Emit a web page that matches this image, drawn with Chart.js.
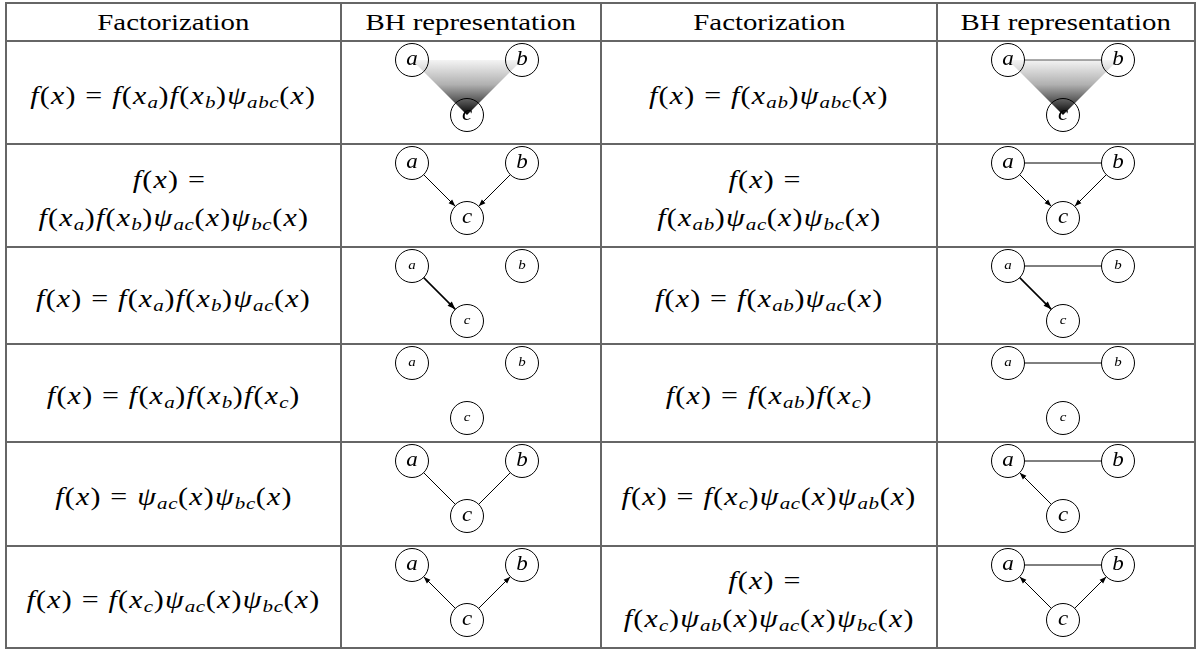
<!DOCTYPE html>
<html>
<head>
<meta charset="utf-8">
<script src="https://cdn.jsdelivr.net/npm/chart.js@4.4.0/dist/chart.umd.min.js"></script>
<style>
  body { margin: 0; background: #fff; width: 1196px; height: 649px; overflow: hidden;
         font-family: "Liberation Serif", "Times New Roman", serif; position: relative; }
  .cell { position: absolute; display: flex; align-items: center; justify-content: center; }
  .txt { display: inline-block; transform: scaleX(1.2); font-size: 24px; line-height: 38px;
         text-align: center; white-space: nowrap; color: #000; }
  .math { font-size: 25px; letter-spacing: 1px; padding-top: 6px; }
  .txt sub { font-size: 70%; vertical-align: -0.22em; line-height: 0; letter-spacing: 0.5px; }
  .rule { position: absolute; background: #666; z-index: 2; }
  canvas { position: absolute; }
</style>
</head>
<body>
<script>
// Tabela: fatorizações e representações BH
const headers = ['Factorization', 'BH representation', 'Factorization', 'BH representation'];

const formulasLeft = [
    'f(x) = f(x_a)f(x_b)ψ_abc(x)',
    'f(x) =\nf(x_a)f(x_b)ψ_ac(x)ψ_bc(x)',
    'f(x) = f(x_a)f(x_b)ψ_ac(x)',
    'f(x) = f(x_a)f(x_b)f(x_c)',
    'f(x) = ψ_ac(x)ψ_bc(x)',
    'f(x) = f(x_c)ψ_ac(x)ψ_bc(x)'
];
const formulasRight = [
    'f(x) = f(x_ab)ψ_abc(x)',
    'f(x) =\nf(x_ab)ψ_ac(x)ψ_bc(x)',
    'f(x) = f(x_ab)ψ_ac(x)',
    'f(x) = f(x_ab)f(x_c)',
    'f(x) = f(x_c)ψ_ac(x)ψ_ab(x)',
    'f(x) =\nf(x_c)ψ_ab(x)ψ_ac(x)ψ_bc(x)'
];

// nós do grafo (a, b, c) dentro de cada célula
const nodeNames = ['a', 'b', 'c'];
const nodeX = [71, 181, 126];
const nodeY = [19, 19, 74];

// 'a-b' = aresta, 'a>c' = seta, 'abc' = triângulo (fator conjunto)
const graphsLeft = [['abc'], ['a>c', 'b>c'], ['a>c'], [], ['a-c', 'b-c'], ['c>a', 'c>b']];
const graphsRight = [['abc', 'a-b'], ['a-b', 'a>c', 'b>c'], ['a-b', 'a>c'], ['a-b'], ['a-b', 'c>a'], ['a-b', 'c>a', 'c>b']];
const smallRows = [2, 3];

// Layout
const colEdges = [6, 341, 601, 937, 1195];
const rowEdges = [3, 41, 144, 247, 344, 442, 546, 648];
const nodeR = 16.5;

function mathHtml(s) {
    return s.split('\n').map(line => line
        .replace(/([a-zψ])/g, '<i>$1</i>')
        .replace(/_((?:<i>[a-z]<\/i>)+)/g, '<sub>$1</sub>')
        .replace(/ = ?/g, '&nbsp;=&nbsp;')
    ).join('<br>');
}

function addCell(c, r, html, cls) {
    const d = document.createElement('div');
    d.className = 'cell';
    d.style.left = colEdges[c] + 'px';
    d.style.top = rowEdges[r] + 'px';
    d.style.width = (colEdges[c + 1] - colEdges[c]) + 'px';
    d.style.height = (rowEdges[r + 1] - rowEdges[r]) + 'px';
    d.innerHTML = '<span class="txt ' + (cls || '') + '">' + html + '</span>';
    document.body.appendChild(d);
}

headers.forEach((h, c) => addCell(c, 0, h));
formulasLeft.forEach((f, r) => addCell(0, r + 1, mathHtml(f), 'math'));
formulasRight.forEach((f, r) => addCell(2, r + 1, mathHtml(f), 'math'));

// Linhas da tabela
rowEdges.forEach(y => {
    const d = document.createElement('div');
    d.className = 'rule';
    Object.assign(d.style, { left: (colEdges[0] - 1) + 'px', top: (y - 1) + 'px',
        width: (colEdges[4] - colEdges[0] + 2) + 'px', height: '2px' });
    document.body.appendChild(d);
});
colEdges.forEach(x => {
    const d = document.createElement('div');
    d.className = 'rule';
    Object.assign(d.style, { left: (x - 1) + 'px', top: (rowEdges[0] - 1) + 'px',
        width: '2px', height: (rowEdges[7] - rowEdges[0] + 2) + 'px' });
    document.body.appendChild(d);
});

// Plugin: triângulo, setas e rótulos
const bhPlugin = {
    id: 'bh',
    beforeDatasetsDraw(chart) {
        if (!chart.options.plugins.bh.triangle) return;
        const pts = chart.getDatasetMeta(0).data;
        const ctx = chart.ctx;
        const g = ctx.createLinearGradient(0, pts[0].y, 0, pts[2].y);
        g.addColorStop(0, '#f4f4f4');
        g.addColorStop(0.45, '#b0b0b0');
        g.addColorStop(0.8, '#454545');
        g.addColorStop(1, '#000');
        ctx.save();
        ctx.beginPath();
        ctx.moveTo(pts[0].x, pts[0].y);
        ctx.lineTo(pts[1].x, pts[1].y);
        ctx.lineTo(pts[2].x, pts[2].y);
        ctx.closePath();
        ctx.fillStyle = g;
        ctx.fill();
        ctx.restore();
    },
    afterDatasetsDraw(chart) {
        const ctx = chart.ctx;
        const opts = chart.options.plugins.bh;
        chart.data.datasets.forEach((ds, k) => {
            if (!ds.arrow) return;
            const p = chart.getDatasetMeta(k).data;
            const ang = Math.atan2(p[1].y - p[0].y, p[1].x - p[0].x);
            const L = opts.small ? 8 : 7, W = opts.small ? 3 : 2.5;
            ctx.save();
            ctx.translate(p[1].x, p[1].y);
            ctx.rotate(ang);
            ctx.beginPath();
            ctx.moveTo(0, 0);
            ctx.lineTo(-L, -W);
            ctx.lineTo(-L, W);
            ctx.closePath();
            ctx.fillStyle = '#000';
            ctx.fill();
            ctx.restore();
        });
        const pts = chart.getDatasetMeta(0).data;
        ctx.save();
        ctx.fillStyle = '#000';
        ctx.textAlign = 'center';
        ctx.textBaseline = 'middle';
        ctx.font = 'italic ' + (opts.small ? 13 : 20) + 'px "Liberation Serif"';
        pts.forEach((pt, i) => {
            ctx.save();
            ctx.translate(pt.x, pt.y);
            ctx.scale(1.15, 1);
            ctx.fillText(nodeNames[i], 0, 0);
            ctx.restore();
        });
        ctx.restore();
    }
};

function drawGraph(c, r, spec) {
    const w = colEdges[c + 1] - colEdges[c];
    const h = rowEdges[r + 2] - rowEdges[r + 1];
    const cv = document.createElement('canvas');
    cv.width = w; cv.height = h;
    cv.style.left = colEdges[c] + 'px';
    cv.style.top = rowEdges[r + 1] + 'px';
    document.body.appendChild(cv);

    const small = smallRows.includes(r);
    const datasets = [{
        type: 'scatter',
        data: nodeX.map((x, i) => ({ x: x, y: nodeY[i] })),
        pointRadius: nodeR,
        pointBackgroundColor: 'rgba(0,0,0,0)',
        pointBorderColor: '#000',
        pointBorderWidth: 1,
        clip: false
    }];
    spec.filter(s => s[1] === '-' || s[1] === '>').forEach(s => {
        const i = nodeNames.indexOf(s[0]), j = nodeNames.indexOf(s[2]);
        const dx = nodeX[j] - nodeX[i], dy = nodeY[j] - nodeY[i];
        const len = Math.hypot(dx, dy), ux = dx / len, uy = dy / len;
        datasets.push({
            type: 'line',
            data: [{ x: nodeX[i] + ux * nodeR, y: nodeY[i] + uy * nodeR },
                   { x: nodeX[j] - ux * nodeR, y: nodeY[j] - uy * nodeR }],
            borderColor: s === 'a-b' && spec.includes('abc') ? '#555' : '#000',
            borderWidth: s[1] === '>' && small ? 1.6 : 1,
            pointRadius: 0,
            showLine: true,
            fill: false,
            arrow: s[1] === '>',
            clip: false
        });
    });

    new Chart(cv, {
        data: { datasets },
        options: {
            responsive: false,
            animation: false,
            events: [],
            layout: { autoPadding: false, padding: 0 },
            plugins: {
                legend: { display: false },
                tooltip: { enabled: false },
                bh: { triangle: spec.includes('abc'), small: small }
            },
            scales: {
                x: { type: 'linear', min: 0, max: w, display: false },
                y: { type: 'linear', min: 0, max: h, reverse: true, display: false }
            }
        },
        plugins: [bhPlugin]
    });
}

graphsLeft.forEach((g, r) => drawGraph(1, r, g));
graphsRight.forEach((g, r) => drawGraph(3, r, g));
</script>
</body>
</html>
